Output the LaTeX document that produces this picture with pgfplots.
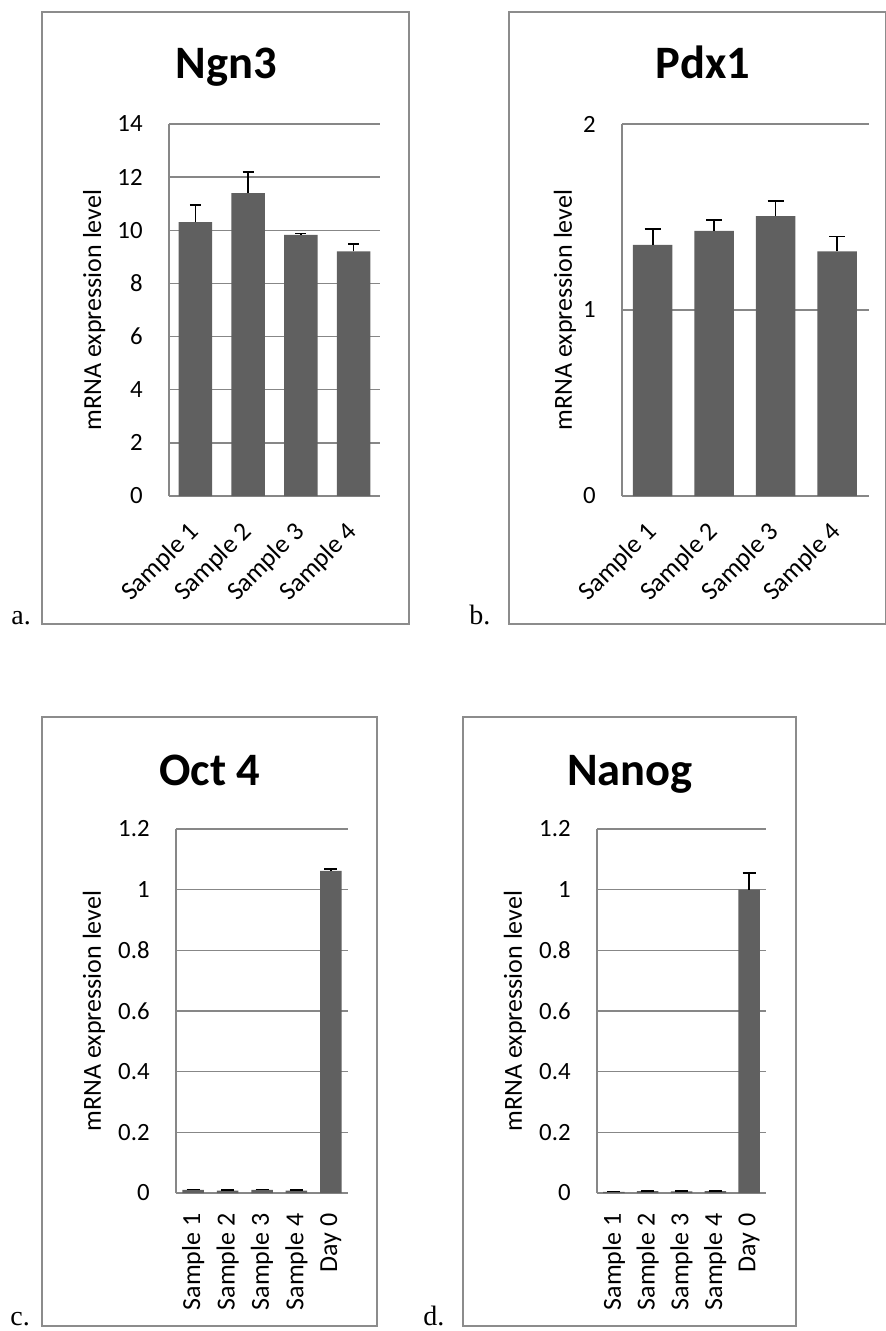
\documentclass[border=0pt]{standalone}
\usepackage{pgfplots}
\usepackage{pgfplotstable}
\pgfplotsset{compat=1.18}
\usepackage{fontspec}
\setmainfont{Carlito}
\newfontfamily\timesf{Liberation Serif}
\definecolor{gridgray}{HTML}{878787}
\definecolor{framegray}{HTML}{8C8C8C}
\definecolor{barfill}{HTML}{606060}

\pgfplotstableread{
x y e
0 10.31 0.64
1 11.40 0.79
2 9.83 0.05
3 9.21 0.27
}\ngn
\pgfplotstableread{
x y e
0 1.350 0.085
1 1.425 0.060
2 1.505 0.080
3 1.315 0.080
}\pdx
\pgfplotstableread{
x y e
0 0.010 0.002
1 0.008 0.001
2 0.010 0.002
3 0.008 0.001
4 1.062 0.006
}\oct
\pgfplotstableread{
x y e
0 0.004 0.001
1 0.006 0.001
2 0.005 0.001
3 0.006 0.001
4 1.000 0.055
}\nanog

\pgfplotsset{
 panel/.style={
  scale only axis, anchor=south west, ybar, ymin=0,
  axis x line*=bottom, axis y line*=left,
  axis line style={draw=gridgray, line width=0.75pt, -},
  ymajorgrids, grid style={draw=gridgray, line width=0.75pt},
  major tick length=0pt,
  xtick=data, xmin=-0.5,
  /pgf/number format/assume math mode=true,
  yticklabel style={font=\fontsize{12.4}{14}\selectfont, anchor=east, inner sep=0pt, xshift=-13pt},
  xticklabel style={font=\fontsize{13}{15}\selectfont, inner sep=0pt},
  ylabel={mRNA expression level},
  every axis y label/.style={font=\fontsize{13}{15}\selectfont, rotate=90, anchor=center},
  clip=false,
 },
 barstyle/.style={fill=barfill, draw=none,
   error bars/.cd, y dir=plus, y explicit, error mark=|,
   error bar style={black, line width=0.8pt},
   error mark options={black, line width=0.8pt, mark size=#1}},
}

\begin{document}
\begin{tikzpicture}
\useasboundingbox (0,0) rectangle (442.5pt,-665.5pt);
% frames
\draw[framegray, line width=0.75pt] (21pt,-6pt) rectangle (204.5pt,-312pt);
\draw[framegray, line width=0.75pt] (254.5pt,-6pt) rectangle (443pt,-312pt);
\draw[framegray, line width=0.75pt] (21pt,-358.5pt) rectangle (188.5pt,-663pt);
\draw[framegray, line width=0.75pt] (231.5pt,-358.5pt) rectangle (398pt,-663pt);
% titles
\node[anchor=base, font=\fontsize{23.25}{26}\selectfont\bfseries] at (113pt,-39.5pt) {Ngn3};
\node[anchor=base, font=\fontsize{23.25}{26}\selectfont\bfseries] at (351.5pt,-39.5pt) {Pdx1};
\node[anchor=base, font=\fontsize{23.25}{26}\selectfont\bfseries] at (105pt,-392.5pt) {Oct 4};
\node[anchor=base, font=\fontsize{23.25}{26}\selectfont\bfseries] at (315pt,-392.5pt) {Nanog};
% panel letters
\node[anchor=base west, inner sep=0pt, font=\timesf\fontsize{14}{16}\selectfont] at (5.5pt,-312pt) {a.};
\node[anchor=base west, inner sep=0pt, font=\timesf\fontsize{14}{16}\selectfont] at (234.5pt,-312pt) {b.};
\node[anchor=base west, inner sep=0pt, font=\timesf\fontsize{14}{16}\selectfont] at (5pt,-662.5pt) {c.};
\node[anchor=base west, inner sep=0pt, font=\timesf\fontsize{14}{16}\selectfont] at (211.5pt,-662.5pt) {d.};

% panel a
\begin{axis}[panel, at={(84.5pt,-248pt)}, width=105.5pt, height=186pt,
  xmax=3.5, ymax=14, ytick={0,2,4,6,8,10,12,14}, bar width=16.75pt,
  xticklabels={Sample 1,Sample 2,Sample 3,Sample 4},
  xticklabel style={rotate=45, anchor=east}, xticklabel shift=16pt,
  ylabel style={at={(rel axis cs:-0.355,0.5)}}]
\addplot[barstyle=2.75pt] table[x=x,y=y,y error=e]{\ngn};
\end{axis}

% panel b
\begin{axis}[panel, at={(311pt,-248pt)}, width=123.5pt, height=186pt,
  xmax=3.52, ymax=2, ytick={0,1,2}, bar width=19.75pt,
  xticklabels={Sample 1,Sample 2,Sample 3,Sample 4},
  xticklabel style={rotate=45, anchor=east}, xticklabel shift=16pt,
  ylabel style={at={(rel axis cs:-0.231,0.5)}}]
\addplot[barstyle=4pt] table[x=x,y=y,y error=e]{\pdx};
\end{axis}

% panel c
\begin{axis}[panel, at={(88pt,-596.5pt)}, width=86pt, height=182pt,
  xmax=4.5, ymax=1.2, ytick={0,0.2,0.4,0.6,0.8,1,1.2}, bar width=10.75pt,
  xticklabels={Sample 1,Sample 2,Sample 3,Sample 4,Day 0},
  xticklabel style={rotate=90, anchor=east}, xticklabel shift=10pt,
  ylabel style={at={(rel axis cs:-0.477,0.5)}}]
\addplot[barstyle=3.25pt] table[x=x,y=y,y error=e]{\oct};
\end{axis}

% panel d
\begin{axis}[panel, at={(298.5pt,-596.5pt)}, width=84.5pt, height=182pt,
  xmax=4.5, ymax=1.2, ytick={0,0.2,0.4,0.6,0.8,1,1.2}, bar width=10.75pt,
  xticklabels={Sample 1,Sample 2,Sample 3,Sample 4,Day 0},
  xticklabel style={rotate=90, anchor=east}, xticklabel shift=10pt,
  ylabel style={at={(rel axis cs:-0.485,0.5)}}]
\addplot[barstyle=3.25pt] table[x=x,y=y,y error=e]{\nanog};
\end{axis}
\end{tikzpicture}
\end{document}
